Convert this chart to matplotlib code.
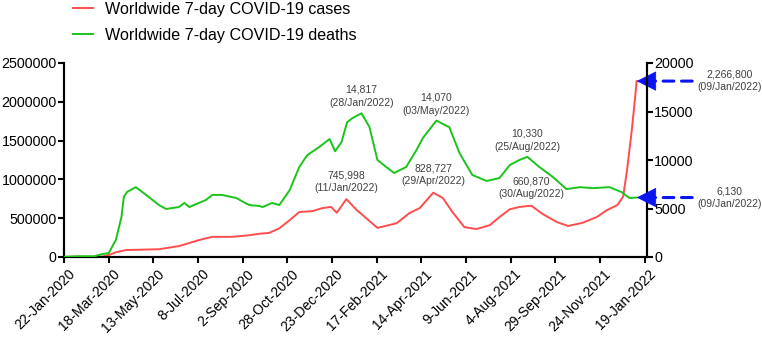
import matplotlib
matplotlib.use("Agg")
import matplotlib.pyplot as plt
import matplotlib.transforms as mtransforms
import pandas as pd

plt.rcParams['font.family'] = ['Liberation Sans', 'DejaVu Sans']

START = "2020-01-22"

# ---- data (days since 22-Jan-2020, 7-day averages) ----
cases_days = [0, 20, 35, 48, 56, 65, 78, 119, 144, 170, 186, 211, 232, 245, 257, 270,
              283, 295, 311, 324, 335, 342, 354, 367, 379, 393, 399, 417, 433, 446,
              463, 475, 487, 502, 517, 534, 546, 559, 571, 586, 600, 618, 632, 650,
              668, 681, 694, 701, 706, 712, 717, 718]
cases_vals = [500, 2500, 1500, 5000, 25000, 60000, 90000, 100000, 140000, 220000,
              260000, 260000, 280000, 300000, 310000, 370000, 475000, 580000, 590000,
              630000, 645000, 570000, 745998, 605000, 500000, 375000, 390000, 435000,
              565000, 630000, 828727, 760000, 580000, 385000, 360000, 410000, 515000,
              615000, 645000, 660870, 555000, 450000, 400000, 440000, 515000, 605000,
              670000, 775000, 1120000, 1640000, 2150000, 2266800]

deaths_days = [0, 19, 38, 48, 56, 65, 72, 75, 79, 90, 103, 119, 128, 144, 151, 157,
               178, 186, 198, 216, 232, 245, 249, 261, 270, 283, 295, 305, 320, 333,
               340, 348, 355, 362, 373, 383, 393, 404, 414, 429, 442, 450, 467, 480,
               483, 496, 512, 530, 546, 559, 571, 581, 596, 613, 630, 647, 663, 684,
               699, 709, 718]
deaths_vals = [20, 80, 70, 300, 400, 1750, 4100, 6200, 6700, 7200, 6400, 5360, 4950,
               5150, 5570, 5150, 5880, 6400, 6400, 6080, 5360, 5260, 5150, 5570, 5360,
               6900, 9280, 10500, 11340, 12160, 10900, 11860, 13900, 14330, 14817,
               13400, 10000, 9280, 8660, 9280, 11030, 12270, 14070, 13500, 13400,
               10700, 8450, 7840, 8140, 9480, 10000, 10330, 9280, 8250, 7000, 7200,
               7100, 7200, 6700, 6080, 6130]

tick_labels = ["22-Jan-2020", "18-Mar-2020", "13-May-2020", "8-Jul-2020", "2-Sep-2020",
               "28-Oct-2020", "23-Dec-2020", "17-Feb-2021", "14-Apr-2021", "9-Jun-2021",
               "4-Aug-2021", "29-Sep-2021", "24-Nov-2021", "19-Jan-2022"]

case_labels = [("745,998", "(11/Jan/2022)", 354, 745998),
               ("828,727", "(29/Apr/2022)", 463, 828727),
               ("660,870", "(30/Aug/2022)", 586, 660870)]
death_labels = [("14,817", "(28/Jan/2022)", 373, 14817),
                ("14,070", "(03/May/2022)", 467, 14070),
                ("10,330", "(25/Aug/2022)", 581, 10330)]
last_cases = ("2,266,800", "(09/Jan/2022)", 718, 2266800)
last_deaths = ("6,130", "(09/Jan/2022)", 718, 6130)

start = pd.Timestamp(START)
to_date = lambda d: start + pd.to_timedelta(d, unit="D")
cx = [to_date(d) for d in cases_days]
dx = [to_date(d) for d in deaths_days]
tick_pos = pd.to_datetime(tick_labels, format="%d-%b-%Y")

RED = "#FF4D4D"
GREEN = "#1BC41B"
TXT = "#404040"

fig = plt.figure(figsize=(7.62, 3.37), dpi=100)
ax = fig.add_axes([64/762, 1-257/337, (647-64)/762, (257-63)/337])
ax2 = ax.twinx()

l1, = ax.plot(cx, cases_vals, color=RED, lw=1.4, label="Worldwide 7-day COVID-19 cases", zorder=3)
l2, = ax2.plot(dx, deaths_vals, color=GREEN, lw=1.4, label="Worldwide 7-day COVID-19 deaths", zorder=3)

ax.set_xlim(to_date(0), to_date(731))
ax.set_ylim(0, 2500000)
ax2.set_ylim(0, 20000)
ax.set_yticks([0, 500000, 1000000, 1500000, 2000000, 2500000])
ax.set_yticklabels(["0", "500000", "1000000", "1500000", "2000000", "2500000"])
ax2.set_yticks([0, 5000, 10000, 15000, 20000])
ax2.set_yticklabels(["0", "5000", "10000", "15000", "20000"])
ax.set_xticks(tick_pos)
ax.set_xticklabels(tick_labels, rotation=45, ha="right", rotation_mode="anchor")

for a in (ax, ax2):
    a.spines["top"].set_visible(False)
    for s in ("left", "right", "bottom"):
        a.spines[s].set_linewidth(1.5)
    a.tick_params(width=1.5, length=4, labelsize=10.3, direction="out", pad=1.2)
ax.tick_params(axis="x", labelsize=10, pad=3.2)
shift = mtransforms.ScaledTranslation(4/100, 0, fig.dpi_scale_trans)
for lab in ax.get_xticklabels():
    lab.set_transform(lab.get_transform() + shift)

# Annotations
for top, bot, d, v in case_labels:
    ax.annotate(top + "\n" + bot, xy=(to_date(d), v), xytext=(0, 4.5), textcoords="offset points",
                ha="center", va="bottom", fontsize=7.5, color=TXT, linespacing=1.35)
for top, bot, d, v in death_labels:
    ax2.annotate(top + "\n" + bot, xy=(to_date(d), v), xytext=(0, 3.5), textcoords="offset points",
                 ha="center", va="bottom", fontsize=7.5, color=TXT, linespacing=1.45)

BLUE = "#0A14F0"
for a, (top, bot, d, v) in ((ax, last_cases), (ax2, last_deaths)):
    xy = (to_date(d), v)
    a.annotate("", xy=xy, xytext=(40, 0), textcoords="offset points",
               arrowprops=dict(arrowstyle="-", color=BLUE, lw=2.2, linestyle=(0, (3.5, 2.5)),
                               shrinkA=0, shrinkB=13), annotation_clip=False)
    a.annotate("", xy=xy, xytext=(14, 0), textcoords="offset points",
               arrowprops=dict(arrowstyle="-|>,head_length=1.1,head_width=0.55", color=BLUE,
                               lw=0.5, shrinkA=0, shrinkB=0, mutation_scale=12),
               annotation_clip=False)
    a.annotate(top + "\n" + bot, xy=xy, xytext=(67, 0), textcoords="offset points",
               ha="center", va="center", fontsize=7.5, color=TXT, linespacing=1.35,
               annotation_clip=False)

fig.legend(handles=[l1, l2], loc="upper left", bbox_to_anchor=(58/762, 1.038),
           frameon=False, fontsize=11.6, handlelength=1.25, handletextpad=0.75,
           labelspacing=0.7)

fig.savefig("out.png", dpi=100)
